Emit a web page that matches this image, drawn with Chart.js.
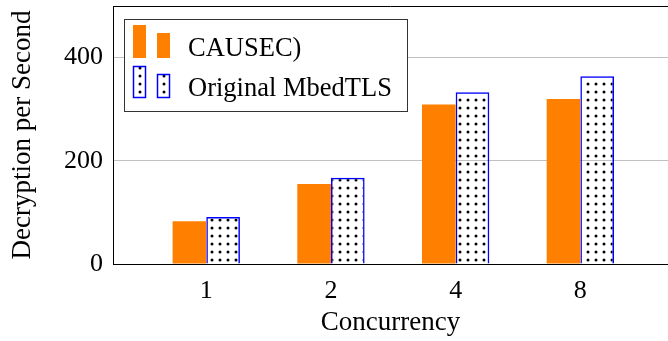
<!DOCTYPE html>
<html>
<head>
<meta charset="utf-8">
<script src="https://cdn.jsdelivr.net/npm/chart.js@4.4.1/dist/chart.umd.min.js"></script>
<style>
    html, body { margin: 0; padding: 0; background: #fff; }
    #wrap { width: 668px; height: 341px; }
</style>
</head>
<body>
<div id="wrap"><canvas id="chart"></canvas></div>
<script>
// values
const concurrency = ['1', '2', '4', '8'];
const causec = [83, 155, 309, 320];
const mbedtls = [91, 167, 333, 364];
const yTicks = [0, 200, 400];

const FONT = "'Liberation Serif', 'DejaVu Serif', serif";
const ORANGE = '#ff8000';
const BLUE = '#0000ff';

// dotted fill like pgfplots "dots" pattern
function dotPattern() {
    const c = document.createElement('canvas');
    c.width = 8; c.height = 8;
    const g = c.getContext('2d');
    g.fillStyle = '#000';
    g.beginPath();
    g.arc(4, 4, 1.5, 0, Math.PI * 2);
    g.fill();
    return document.getElementById('chart').getContext('2d').createPattern(c, 'repeat');
}
const dots = dotPattern();

const toPoints = arr => arr.map((v, i) => ({ x: i, y: v }));

// top border of the axis box + pgfplots-style legend
const framePlugin = {
    id: 'frame',
    afterDraw(chart) {
        const ctx = chart.ctx;
        const a = chart.chartArea;
        ctx.save();
        ctx.strokeStyle = '#000';
        ctx.lineWidth = 1;
        ctx.beginPath();
        ctx.moveTo(a.left, a.top + 0.5);
        ctx.lineTo(a.right, a.top + 0.5);
        ctx.stroke();

        // legend box
        const lx = 124.5, ly = 19.5, lw = 283, lh = 92;
        ctx.fillStyle = '#fff';
        ctx.fillRect(lx, ly, lw, lh);
        ctx.strokeStyle = '#333';
        ctx.strokeRect(lx, ly, lw, lh);

        const ds = chart.data.datasets;
        // orange icon
        ctx.fillStyle = ORANGE;
        ctx.fillRect(133, 25, 13, 33);
        ctx.fillRect(157, 33, 13, 25);
        // dotted icon
        [[133, 66, 13, 32], [157, 74, 13, 24]].forEach(([x, y, w, h]) => {
            ctx.fillStyle = dots;
            ctx.fillRect(x, y, w, h);
            ctx.strokeStyle = BLUE;
            ctx.lineWidth = 1.5;
            ctx.strokeRect(x + 0.5, y + 0.5, w - 1, h - 1);
        });

        ctx.fillStyle = '#000';
        ctx.font = '26.5px ' + FONT;
        ctx.textBaseline = 'alphabetic';
        ctx.textAlign = 'left';
        ctx.fillText(ds[0].label, 188, 56);
        ctx.fillText(ds[1].label, 188, 96);
        ctx.restore();
    }
};

new Chart(document.getElementById('chart'), {
    type: 'bar',
    data: {
        datasets: [{
            label: 'CAUSEC)',
            data: toPoints(causec),
            backgroundColor: ORANGE,
            borderWidth: 0,
            categoryPercentage: 0.54,
            barPercentage: 1.0
        }, {
            label: 'Original MbedTLS',
            data: toPoints(mbedtls),
            backgroundColor: dots,
            borderColor: BLUE,
            borderWidth: 1.5,
            categoryPercentage: 0.54,
            barPercentage: 1.0
        }]
    },
    options: {
        responsive: true,
        maintainAspectRatio: false,
        animation: false,
        layout: { padding: { top: 6, right: 0, left: 0, bottom: 0 } },
        plugins: {
            legend: { display: false },
            tooltip: { enabled: false }
        },
        scales: {
            x: {
                type: 'linear',
                offset: false,
                min: -0.748,
                max: 3.703,
                afterBuildTicks: scale => {
                    scale.ticks = concurrency.map((_, i) => ({ value: i }));
                },
                afterFit: scale => {
                    scale.height = 77;
                    scale.paddingLeft = 0;
                    scale.paddingRight = 0;
                },
                grid: { display: false, drawTicks: false, offset: false },
                border: { color: '#000', width: 1 },
                ticks: {
                    padding: 12,
                    color: '#000',
                    font: { family: FONT, size: 26 },
                    callback: v => concurrency[v]
                },
                title: {
                    display: true,
                    text: 'Concurrency',
                    color: '#000',
                    font: { family: FONT, size: 27 },
                    padding: { top: 0, bottom: 2 }
                }
            },
            y: {
                min: 0,
                max: 500,
                afterBuildTicks: scale => {
                    scale.ticks = yTicks.map(v => ({ value: v }));
                },
                afterFit: scale => {
                    scale.width = 113;
                    scale.paddingTop = 0;
                    scale.paddingBottom = 0;
                },
                grid: { color: '#c0c0c0', lineWidth: 1, drawTicks: false },
                border: { color: '#000', width: 1 },
                ticks: {
                    padding: 10,
                    color: '#000',
                    font: { family: FONT, size: 26 }
                },
                title: {
                    display: true,
                    text: 'Decryption per Second',
                    color: '#000',
                    font: { family: FONT, size: 27 },
                    padding: { top: 7, bottom: 0 }
                }
            }
        }
    },
    plugins: [framePlugin]
});
</script>
</body>
</html>
